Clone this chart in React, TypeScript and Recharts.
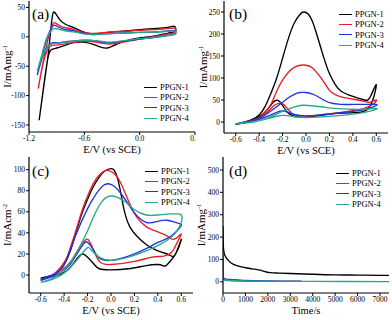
import React from 'react';
import { LineChart, Line, XAxis, YAxis, Label } from 'recharts';

const FONT = '"Liberation Serif", "Times New Roman", serif';
const NAMES = ['PPGN-1', 'PPGN-2', 'PPGN-3', 'PPGN-4'];
const COLORS = ['#000000', '#ec1c24', '#1f33e6', '#25a98b'];

type Pt = [number, number];

// ---- (a) CV in KOH, -1.1 .. 0.4 V ----
const aTicksX = [-1.2, -0.6, 0.0, 0.6];
const aTicksY = [-150, -100, -50, 0, 50];
const a1: Pt[] = [
  [-1.09, -142], [-1.04, -85], [-1.0, -40], [-0.975, -5], [-0.955, 25], [-0.94, 40], [-0.925, 42],
  [-0.9, 37], [-0.86, 28], [-0.8, 21], [-0.72, 16], [-0.62, 9], [-0.52, 5], [-0.42, 6], [-0.3, 8],
  [-0.15, 10], [0.0, 12], [0.15, 14], [0.3, 16], [0.38, 18], [0.39, 12], [0.38, 9], [0.3, 6],
  [0.15, 1], [0.0, -2], [-0.15, -7], [-0.27, -14], [-0.35, -19], [-0.43, -17], [-0.52, -12],
  [-0.62, -9], [-0.72, -10], [-0.82, -15], [-0.9, -19], [-0.96, -22], [-1.0, -40], [-1.05, -95], [-1.09, -142],
];
const a2: Pt[] = [
  [-1.1, -88], [-1.05, -45], [-1.0, -8], [-0.96, 15], [-0.93, 24], [-0.9, 22], [-0.84, 17], [-0.78, 15],
  [-0.7, 12], [-0.6, 7], [-0.5, 6], [-0.4, 7], [-0.25, 9], [-0.1, 10], [0.1, 12], [0.25, 13], [0.38, 15],
  [0.39, 10], [0.38, 7], [0.25, 3], [0.1, -1], [0.0, -4], [-0.15, -8], [-0.3, -12], [-0.4, -11],
  [-0.52, -8], [-0.65, -8], [-0.78, -11], [-0.9, -14], [-0.97, -16], [-1.02, -30], [-1.06, -55], [-1.1, -88],
];
const a3: Pt[] = [
  [-1.11, -65], [-1.06, -35], [-1.01, -5], [-0.96, 14], [-0.93, 20], [-0.9, 18], [-0.84, 14], [-0.78, 12],
  [-0.68, 9], [-0.58, 5], [-0.48, 4], [-0.38, 5], [-0.25, 6], [-0.1, 7], [0.1, 8], [0.25, 9], [0.38, 11],
  [0.39, 8], [0.38, 5], [0.25, 1], [0.1, -2], [0.0, -4], [-0.15, -7], [-0.3, -10], [-0.4, -9],
  [-0.52, -6], [-0.65, -6], [-0.78, -8], [-0.9, -10], [-0.97, -12], [-1.03, -25], [-1.07, -42], [-1.11, -65],
];
const a4: Pt[] = [
  [-1.11, -58], [-1.06, -30], [-1.01, -3], [-0.96, 10], [-0.93, 14], [-0.88, 13], [-0.8, 10], [-0.7, 8],
  [-0.6, 5], [-0.5, 4], [-0.38, 5], [-0.25, 6], [-0.1, 7], [0.1, 8], [0.25, 9], [0.38, 10],
  [0.39, 7], [0.38, 4], [0.25, 1], [0.1, -2], [0.0, -3], [-0.15, -6], [-0.3, -9], [-0.4, -8],
  [-0.52, -6], [-0.65, -6], [-0.78, -9], [-0.9, -11], [-0.97, -13], [-1.03, -25], [-1.07, -38], [-1.11, -58],
];

// ---- (b) methanol oxidation, mass activity ----
const cvTicksX = [-0.6, -0.4, -0.2, 0.0, 0.2, 0.4, 0.6];
const bTicksY = [0, 50, 100, 150, 200, 250];
const b1: Pt[] = [
  [-0.6, -5], [-0.5, 2], [-0.45, 7], [-0.4, 16], [-0.35, 35], [-0.3, 65], [-0.25, 100], [-0.2, 145],
  [-0.15, 190], [-0.1, 225], [-0.05, 245], [-0.02, 250], [0.02, 245], [0.06, 225], [0.1, 192],
  [0.15, 148], [0.2, 110], [0.25, 85], [0.3, 70], [0.4, 58], [0.5, 50], [0.55, 58], [0.6, 85],
  [0.57, 50], [0.52, 28], [0.45, 22], [0.3, 20], [0.15, 16], [0.0, 12], [-0.1, 13], [-0.16, 22],
  [-0.2, 38], [-0.24, 49], [-0.28, 45], [-0.33, 28], [-0.4, 12], [-0.5, 2], [-0.6, -6],
];
const b2: Pt[] = [
  [-0.6, -5], [-0.5, 1], [-0.4, 10], [-0.35, 22], [-0.3, 40], [-0.25, 70], [-0.2, 95], [-0.15, 113],
  [-0.1, 124], [-0.05, 129], [0.0, 129], [0.05, 124], [0.1, 110], [0.15, 92], [0.2, 72], [0.25, 62],
  [0.3, 57], [0.4, 52], [0.5, 47], [0.55, 45], [0.6, 50],
  [0.58, 42], [0.52, 33], [0.45, 28], [0.3, 22], [0.15, 17], [0.0, 13], [-0.1, 16], [-0.15, 28],
  [-0.19, 40], [-0.22, 43], [-0.27, 38], [-0.33, 22], [-0.4, 10], [-0.5, 0], [-0.6, -5],
];
const b3: Pt[] = [
  [-0.6, -5], [-0.5, 0], [-0.4, 8], [-0.3, 25], [-0.2, 45], [-0.15, 55], [-0.1, 63], [-0.05, 67],
  [0.0, 67], [0.05, 64], [0.1, 58], [0.15, 50], [0.2, 44], [0.3, 40], [0.4, 40], [0.5, 40], [0.6, 40],
  [0.58, 35], [0.5, 28], [0.4, 24], [0.3, 21], [0.15, 17], [0.0, 14], [-0.1, 17], [-0.15, 22],
  [-0.2, 25], [-0.25, 22], [-0.3, 16], [-0.4, 6], [-0.5, -1], [-0.6, -5],
];
const b4: Pt[] = [
  [-0.6, -4], [-0.5, -1], [-0.4, 3], [-0.3, 12], [-0.2, 24], [-0.1, 34], [-0.03, 38], [0.05, 37],
  [0.15, 34], [0.25, 31], [0.4, 29], [0.5, 29], [0.6, 31],
  [0.58, 27], [0.5, 22], [0.4, 18], [0.25, 14], [0.1, 11], [0.0, 10], [-0.1, 12], [-0.18, 15],
  [-0.25, 13], [-0.35, 6], [-0.45, 0], [-0.6, -4],
];

// ---- (c) methanol oxidation, area activity ----
const cTicksY = [0, 20, 40, 60, 80, 100];
const c1: Pt[] = [
  [-0.6, -3], [-0.5, 0], [-0.45, 3], [-0.4, 10], [-0.35, 22], [-0.3, 40], [-0.25, 58], [-0.2, 72],
  [-0.15, 84], [-0.1, 93], [-0.05, 99], [0.0, 101], [0.03, 99], [0.06, 90], [0.09, 74], [0.12, 58],
  [0.16, 46], [0.22, 37], [0.3, 29], [0.4, 23], [0.5, 19], [0.55, 20], [0.6, 34],
  [0.57, 24], [0.52, 15], [0.47, 9], [0.44, 9], [0.4, 10], [0.3, 9], [0.15, 6], [0.0, 5], [-0.1, 6],
  [-0.15, 11], [-0.2, 17], [-0.24, 20], [-0.28, 17], [-0.35, 7], [-0.45, 0], [-0.6, -3],
];
const c2: Pt[] = [
  [-0.6, -4], [-0.5, 0], [-0.4, 12], [-0.35, 25], [-0.3, 42], [-0.25, 60], [-0.2, 75], [-0.15, 87],
  [-0.1, 95], [-0.05, 99], [-0.02, 99], [0.03, 96], [0.08, 88], [0.12, 78], [0.17, 65], [0.22, 55],
  [0.3, 46], [0.4, 41], [0.48, 37], [0.54, 34], [0.6, 39],
  [0.57, 32], [0.52, 22], [0.45, 18], [0.35, 17], [0.2, 13], [0.0, 10], [-0.1, 13], [-0.15, 24],
  [-0.19, 33], [-0.22, 33], [-0.27, 26], [-0.33, 15], [-0.42, 5], [-0.6, -5],
];
const c3: Pt[] = [
  [-0.6, -4], [-0.5, 0], [-0.4, 10], [-0.3, 38], [-0.2, 63], [-0.15, 73], [-0.1, 81], [-0.05, 86],
  [0.0, 86], [0.05, 82], [0.1, 75], [0.15, 67], [0.2, 59], [0.3, 50], [0.4, 51], [0.48, 52], [0.55, 50], [0.6, 48],
  [0.58, 44], [0.5, 36], [0.4, 31], [0.3, 25], [0.15, 18], [0.0, 14], [-0.1, 16], [-0.15, 24],
  [-0.2, 31], [-0.23, 30], [-0.28, 22], [-0.35, 10], [-0.45, 1], [-0.6, -5],
];
const c4: Pt[] = [
  [-0.6, -7], [-0.5, -3], [-0.4, 5], [-0.3, 20], [-0.2, 42], [-0.15, 55], [-0.1, 66], [-0.05, 73],
  [0.0, 75], [0.05, 74], [0.1, 71], [0.15, 67], [0.2, 62], [0.3, 57], [0.4, 57], [0.5, 58], [0.56, 58], [0.6, 57],
  [0.6, 50], [0.55, 40], [0.48, 33], [0.4, 28], [0.3, 23], [0.15, 17], [0.0, 14], [-0.1, 17],
  [-0.17, 24], [-0.2, 26], [-0.25, 20], [-0.3, 13], [-0.4, 2], [-0.5, -4], [-0.6, -7],
];

// ---- (d) chronoamperometry ----
const dTicksX = [0, 1000, 2000, 3000, 4000, 5000, 6000, 7000];
const dTicksY = [0, 100, 200, 300, 400, 500];
const d1: Pt[] = [
  [0, 250], [5, 200], [15, 160], [40, 135], [100, 115], [200, 100], [350, 85], [500, 77], [700, 70],
  [1000, 63], [1300, 58], [1600, 53], [1900, 45], [2100, 41], [2500, 39], [3000, 37], [4000, 34],
  [5000, 31], [6000, 30], [7000, 29], [7400, 29],
];
const d2: Pt[] = [[0, 50], [10, 20], [40, 10], [100, 7], [300, 5], [1000, 3], [2000, 2], [3500, 2]];
const d3: Pt[] = [[0, 120], [5, 60], [15, 22], [50, 15], [150, 12], [400, 10], [1000, 6], [2000, 4], [3500, 3]];
const d4: Pt[] = [[0, 90], [8, 30], [25, 12], [100, 8], [400, 6], [1000, 4], [2000, 3], [4000, 2], [7400, 1]];

const toRows = (pts: Pt[]) => pts.map(([x, y]) => ({ x, y }));
const fmt1 = (v: number) => v.toFixed(1);

// legend box, drawn over the plot like the original figure (page coordinates)
const SeriesKey = ({ x, y }: { x: number; y: number }) => (
  <div style={{ position: 'absolute', left: x, top: y, fontFamily: FONT, fontSize: 8.5, color: '#000' }}>
    {NAMES.map((n, i) => (
      <div key={n} style={{ display: 'flex', alignItems: 'center', height: 10.3, whiteSpace: 'nowrap' }}>
        <span style={{ display: 'inline-block', width: 13, borderTop: `1.5px solid ${COLORS[i]}`, marginRight: 3 }} />
        <span>{n}</span>
      </div>
    ))}
  </div>
);

const Tag = ({ x, y, text }: { x: number; y: number; text: string }) => (
  <div style={{ position: 'absolute', left: x, top: y, fontFamily: FONT, fontSize: 15.5, lineHeight: 1, color: '#000' }}>
    {text}
  </div>
);

interface PanelProps {
  left: number;
  top: number;
  width: number;
  height: number;
  margin: { top: number; right: number; left: number; bottom: number };
  yW: number;
  xH: number;
  xDomain: [number, number];
  yDomain: [number, number];
  xTicks: number[];
  yTicks: number[];
  xFmt?: (v: number) => string;
  series: Pt[][];
  curve: 'natural' | 'linear' | 'monotone';
  xTitle: string;
  yTitle: string;
  ySup: string;
  yTitleX: number;
  topFrame?: number;
}

const Panel = (p: PanelProps) => {
  const tickStyle = { fontSize: 7.5, fill: '#000', fontFamily: FONT };
  return (
    <div style={{ position: 'absolute', left: p.left, top: p.top, width: p.width, height: p.height, overflow: 'hidden' }}>
      <LineChart width={p.width} height={p.height} margin={p.margin} style={{ fontFamily: FONT }}>
        <XAxis
          type="number"
          dataKey="x"
          domain={p.xDomain}
          ticks={p.xTicks}
          interval={0}
          allowDataOverflow
          height={p.xH}
          tickFormatter={p.xFmt}
          tick={tickStyle}
          tickSize={3}
          tickMargin={1}
          tickLine={{ stroke: '#000' }}
          axisLine={{ stroke: '#000', strokeWidth: 1.2 }}
        >
          <Label
            content={({ viewBox }: any) => (
              <text
                x={viewBox.x + viewBox.width / 2}
                y={viewBox.y + 21}
                textAnchor="middle"
                fontSize={10.5}
                fontFamily={FONT}
                fill="#000"
              >
                {p.xTitle}
              </text>
            )}
          />
        </XAxis>
        <YAxis
          type="number"
          domain={p.yDomain}
          ticks={p.yTicks}
          interval={0}
          allowDataOverflow
          width={p.yW}
          tick={tickStyle}
          tickSize={3}
          tickMargin={1}
          tickLine={{ stroke: '#000' }}
          axisLine={{ stroke: '#000', strokeWidth: 1.2 }}
        >
          <Label
            content={({ viewBox }: any) => {
              const cx = p.yTitleX;
              const cy = viewBox.y + viewBox.height / 2;
              return (
                <text
                  x={cx}
                  y={cy}
                  transform={`rotate(-90 ${cx} ${cy})`}
                  textAnchor="middle"
                  fontSize={11}
                  fontFamily={FONT}
                  fill="#000"
                >
                  <tspan>{p.yTitle}</tspan>
                  <tspan dy={-4.5} fontSize={6.5}>{p.ySup}</tspan>
                </text>
              );
            }}
          />
        </YAxis>
        {/* frame: top and right edges */}
        <XAxis xAxisId="t" orientation="top" type="number" domain={p.xDomain} allowDataOverflow height={0} tick={false} tickLine={false} axisLine={{ stroke: '#111', strokeWidth: p.topFrame ?? 1.2 }} />
        <YAxis yAxisId="r" orientation="right" type="number" domain={p.yDomain} allowDataOverflow width={0} tick={false} tickLine={false} axisLine={{ stroke: '#000', strokeWidth: 1.2 }} />
        {p.series.map((pts, i) => (
          <Line
            key={NAMES[i]}
            data={toRows(pts)}
            dataKey="y"
            name={NAMES[i]}
            stroke={COLORS[i]}
            strokeWidth={1.35}
            dot={false}
            activeDot={false}
            type={p.curve}
            isAnimationActive={false}
          />
        ))}
      </LineChart>
    </div>
  );
};

export default function App() {
  return (
    <div style={{ position: 'absolute', left: 0, top: 0, width: 392, height: 320, background: '#fff', overflow: 'hidden' }}>
      <Panel
        left={0}
        top={0}
        width={196}
        height={160}
        margin={{ top: 1, right: 1, left: 0, bottom: 0 }}
        yW={29}
        xH={28}
        xDomain={[-1.2, 0.6]}
        yDomain={[-162, 61]}
        xTicks={aTicksX}
        yTicks={aTicksY}
        xFmt={fmt1}
        series={[a1, a2, a3, a4]}
        curve="natural"
        xTitle="E/V (vs SCE)"
        yTitle="I/mAmg"
        ySup="-1"
        yTitleX={11}
      />
      <Panel
        left={196}
        top={0}
        width={196}
        height={160}
        margin={{ top: 1, right: 4, left: 0, bottom: 0 }}
        yW={28}
        xH={27}
        xDomain={[-0.7, 0.7]}
        yDomain={[-25, 275]}
        xTicks={cvTicksX}
        yTicks={bTicksY}
        xFmt={fmt1}
        series={[b1, b2, b3, b4]}
        curve="natural"
        xTitle="E/V (vs SCE)"
        yTitle="I/mAmg"
        ySup="-1"
        yTitleX={11}
      />
      <Panel
        left={0}
        top={150}
        width={196}
        height={170}
        margin={{ top: 7, right: 3, left: 0, bottom: 0 }}
        yW={29}
        xH={27}
        xDomain={[-0.7, 0.7]}
        yDomain={[-17, 112]}
        xTicks={cvTicksX}
        yTicks={cTicksY}
        xFmt={fmt1}
        series={[c1, c2, c3, c4]}
        curve="natural"
        xTitle="E/V (vs SCE)"
        yTitle="I/mAcm"
        ySup="-2"
        yTitleX={11}
        topFrame={2}
      />
      <Panel
        left={196}
        top={150}
        width={196}
        height={170}
        margin={{ top: 7, right: 3, left: 0, bottom: 0 }}
        yW={27}
        xH={27}
        xDomain={[0, 7400]}
        yDomain={[-50, 558]}
        xTicks={dTicksX}
        yTicks={dTicksY}
        series={[d1, d2, d3, d4]}
        curve="monotone"
        xTitle="Time/s"
        yTitle="I/mAmg"
        ySup="-1"
        yTitleX={9}
        topFrame={2}
      />
      <Tag x={32} y={6} text="(a)" />
      <Tag x={229} y={6} text="(b)" />
      <Tag x={32} y={163} text="(c)" />
      <Tag x={229} y={163} text="(d)" />
      <SeriesKey x={144} y={82} />
      <SeriesKey x={339} y={9} />
      <SeriesKey x={145} y={166} />
      <SeriesKey x={336} y={168} />
    </div>
  );
}
